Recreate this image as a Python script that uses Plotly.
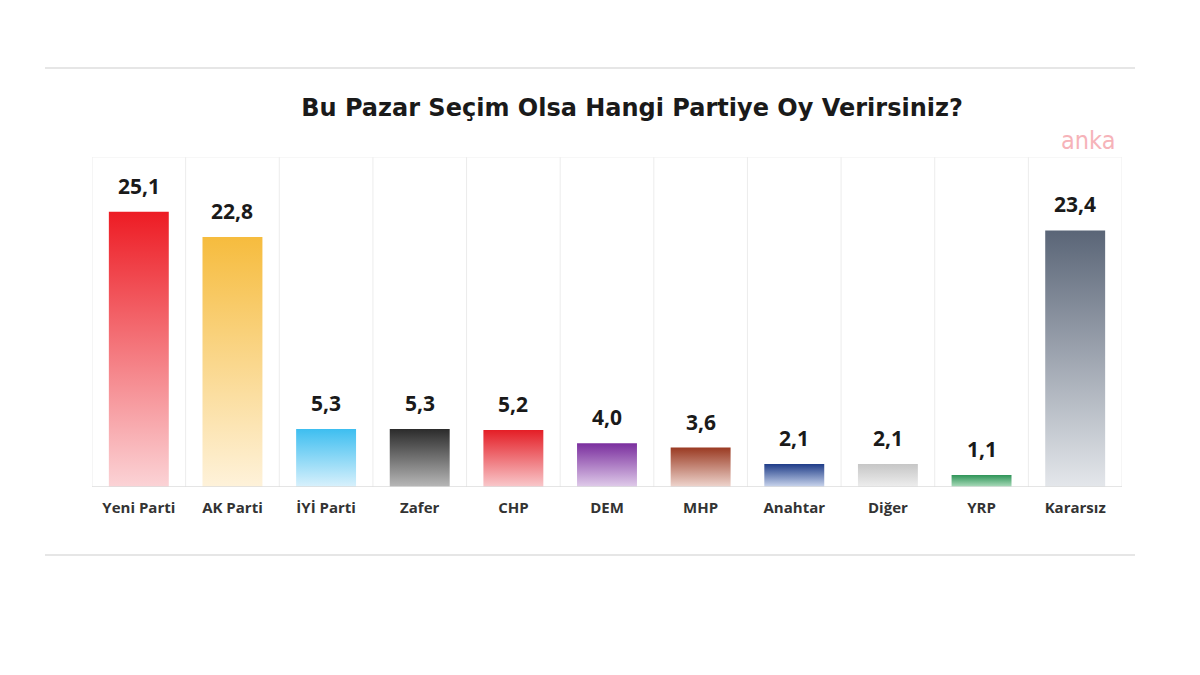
import plotly.graph_objects as go

categories = ["Yeni Parti", "AK Parti", "İYİ Parti", "Zafer", "CHP", "DEM",
              "MHP", "Anahtar", "Diğer", "YRP", "Kararsız"]
values = [25.1, 22.8, 5.3, 5.3, 5.2, 4.0, 3.6, 2.1, 2.1, 1.1, 23.4]
value_labels = ["25,1", "22,8", "5,3", "5,3", "5,2", "4,0", "3,6", "2,1", "2,1", "1,1", "23,4"]
top_colors = ["#ED1C24", "#F6BC3E", "#3DBEF0", "#2B2B2B", "#E41E26", "#7A2E9E",
              "#9A3A22", "#1E3C88", "#C6C6C6", "#2E9457", "#5A6577"]
bottom_colors = ["#FBD3D6", "#FEF2DA", "#D9F1FC", "#B8B8B8", "#F9C9CC", "#E0CCEA",
                 "#EFD6CF", "#CCD7EE", "#EEEEEE", "#AEDDBE", "#E4E7EB"]
title = "Bu Pazar Seçim Olsa Hangi Partiye Oy Verirsiniz?"

FONT = "Open Sans"
half = 0.32
ymax = 30.1

fig = go.Figure()
for i, (v, tc, bc) in enumerate(zip(values, top_colors, bottom_colors)):
    fig.add_trace(go.Scatter(
        x=[i - half, i + half, i + half, i - half, i - half],
        y=[0, 0, v, v, 0],
        mode="lines", fill="toself",
        line=dict(width=0, color=tc),
        fillgradient=dict(type="vertical", colorscale=[[0, bc], [1, tc]]),
        hoverinfo="skip", showlegend=False,
    ))
    fig.add_annotation(x=i, y=v, text=f"<b>{value_labels[i]}</b>", showarrow=False,
                       yanchor="bottom", yshift=10,
                       font=dict(family=FONT, size=21, color="#1a1a1a"))

n = len(categories)
# column borders
for k in range(n + 1):
    fig.add_shape(type="line", xref="x", yref="y", x0=k - 0.5, x1=k - 0.5, y0=0, y1=ymax,
                  line=dict(color="#ececec", width=1), layer="below")
fig.add_shape(type="line", xref="x", yref="y", x0=-0.5, x1=n - 0.5, y0=ymax, y1=ymax,
              line=dict(color="#f0f0f0", width=1), layer="below")
fig.add_shape(type="line", xref="x", yref="y", x0=-0.5, x1=n - 0.5, y0=0, y1=0,
              line=dict(color="#dcdcdc", width=1.5))

# outer horizontal rules
for yy in [1.2697, -0.206]:
    fig.add_shape(type="line", xref="paper", yref="paper", x0=-0.0456, x1=1.0126, y0=yy, y1=yy,
                  line=dict(color="#e6e6e6", width=2))

fig.add_annotation(xref="paper", yref="paper", x=0.967, y=1.0515, text="anka", showarrow=False,
                   xanchor="center", yanchor="middle",
                   font=dict(family="DejaVu Sans Condensed", size=25, color="#F6B3B9"))

fig.update_layout(
    width=1200, height=675,
    margin=dict(l=84, r=86, t=149, b=196),
    paper_bgcolor="white", plot_bgcolor="white",
    title=dict(text=f"<b>{title}</b>", x=0.52, xanchor="center", y=0.852, yanchor="middle",
               font=dict(family="DejaVu Sans", size=24, color="#1a1a1a")),
    xaxis=dict(range=[-0.5, n - 0.5], tickvals=list(range(n)), ticktext=[f"<b>{c}</b>" for c in categories],
               showgrid=False, zeroline=False, showline=False, ticks="",
               ticklabelstandoff=10,
               tickfont=dict(family=FONT, size=15, color="#333333"), fixedrange=True),
    yaxis=dict(range=[0, ymax], showgrid=False, zeroline=False, showticklabels=False,
               showline=False, fixedrange=True),
)

fig.write_html("out.html")
